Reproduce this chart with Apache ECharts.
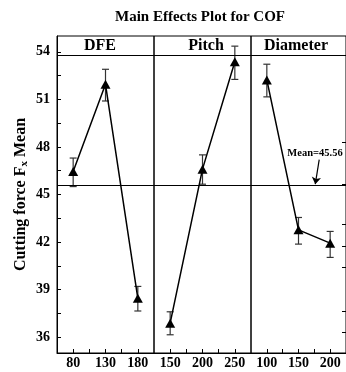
<!DOCTYPE html>
<html><head><meta charset="utf-8">
<script src="https://cdn.jsdelivr.net/npm/echarts@6/dist/echarts.min.js"></script>
<style>html,body{margin:0;padding:0;background:#fff}#c{width:346px;height:372px}</style>
</head><body><div id="c"></div>
<script>
var panelNames = ['DFE', 'Pitch', 'Diameter'];
var dfeLevels = [80, 130, 180];
var dfeMeans = [46.45, 51.95, 38.45];
var dfeLow = [45.5, 50.9, 37.65];
var dfeHigh = [47.3, 52.9, 39.2];
var pitchLevels = [150, 200, 250];
var pitchMeans = [36.88, 46.6, 53.37];
var pitchLow = [36.15, 45.65, 52.26];
var pitchHigh = [37.6, 47.5, 54.36];
var diamLevels = [100, 150, 200];
var diamMeans = [52.23, 42.77, 41.93];
var diamLow = [51.16, 41.87, 41.03];
var diamHigh = [53.22, 43.55, 42.67];
var xRanges = [[55, 205], [125, 275], [75, 225]];
var xLabelVals = [[80, 130, 180], [150, 200, 250], [100, 150, 200]];
var xTickVals = [[80, 105, 130, 155, 180], [150, 175, 200, 225, 250], [100, 125, 150, 175, 200]];
var yLabelVals = [36, 39, 42, 45, 48, 51, 54];
var yTickVals = [36, 37.5, 39, 40.5, 42, 43.5, 45, 46.5, 48, 49.5, 51, 52.5, 54];
var rightTickVals = [53.8, 48.3, 45.65, 43.1, 41.75, 40.4, 37.65, 36.3];
var grandMean = 45.56;
var headerLine = 53.8;
var meanArrow = [[182.7, 47.2], [176.5, 45.65]];

var font = '"Liberation Serif", "Times New Roman", serif';
var levels = [dfeLevels, pitchLevels, diamLevels];
var means = [dfeMeans, pitchMeans, diamMeans];
var lows = [dfeLow, pitchLow, diamLow];
var highs = [dfeHigh, pitchHigh, diamHigh];

var gridLefts = [57, 154, 251];
var grids = [], xAxes = [], yAxes = [], series = [];
for (var i = 0; i < 3; i++) {
  grids.push({left: gridLefts[i], top: 36, width: 97, height: 317, show: true,
    borderColor: '#000', borderWidth: 1, backgroundColor: 'transparent'});
  xAxes.push({type: 'value', gridIndex: i, min: xRanges[i][0], max: xRanges[i][1],
    splitLine: {show: false},
    axisLine: {show: true, onZero: false, lineStyle: {color: '#000', width: 1}},
    axisTick: {show: true, inside: true, length: 4, customValues: xTickVals[i], lineStyle: {color: '#000'}},
    axisLabel: {show: true, customValues: xLabelVals[i], margin: 3, color: '#000',
      fontFamily: font, fontWeight: 'bold', fontSize: 14}});
  yAxes.push({type: 'value', gridIndex: i, min: 35, max: 55,
    splitLine: {show: false},
    axisLine: {show: i === 0, lineStyle: {color: '#000', width: 1}},
    axisTick: {show: i === 0, inside: true, length: 4, customValues: yTickVals, lineStyle: {color: '#000'}},
    axisLabel: {show: i === 0, customValues: yLabelVals, margin: 7, color: '#000',
      fontFamily: font, fontWeight: 'bold', fontSize: 14},
    name: i === 0 ? '{a|Cutting force F}{s|x}{a| Mean}' : '',
    nameLocation: 'middle', nameRotate: 90, nameGap: 27,
    nameTextStyle: {rich: {
      a: {fontFamily: font, fontWeight: 'bold', fontSize: 16, color: '#000'},
      s: {fontFamily: font, fontWeight: 'bold', fontSize: 11, color: '#000', verticalAlign: 'bottom', padding: [8, 0, 0, 0]}
    }}});
  var pts = [], eb = [];
  for (var j = 0; j < levels[i].length; j++) {
    pts.push([levels[i][j], means[i][j]]);
    eb.push([levels[i][j], lows[i][j], highs[i][j]]);
  }
  var ml = [
    {yAxis: grandMean},
    {yAxis: headerLine}
  ];
  series.push({type: 'line', xAxisIndex: i, yAxisIndex: i, data: pts,
    symbol: 'triangle', symbolSize: [10, 9], z: 5,
    itemStyle: {color: '#000'}, lineStyle: {color: '#000', width: 1.5},
    markLine: {silent: true, symbol: 'none', label: {show: false},
      lineStyle: {color: '#000', width: 1, type: 'solid'}, data: ml}});
  series.push({type: 'custom', xAxisIndex: i, yAxisIndex: i, data: eb, z: 4,
    renderItem: function (params, api) {
      var x = api.value(0);
      var lo = api.coord([x, api.value(1)]);
      var hi = api.coord([x, api.value(2)]);
      var w = 3.5;
      var st = {stroke: '#333', lineWidth: 1.2};
      return {type: 'group', children: [
        {type: 'line', shape: {x1: lo[0], y1: lo[1], x2: hi[0], y2: hi[1]}, style: st},
        {type: 'line', shape: {x1: lo[0] - w, y1: lo[1], x2: lo[0] + w, y2: lo[1]}, style: st},
        {type: 'line', shape: {x1: hi[0] - w, y1: hi[1], x2: hi[0] + w, y2: hi[1]}, style: st}
      ]};
    }});
}
// right-side tick axis on last panel
yAxes.push({type: 'value', gridIndex: 2, position: 'right', min: 35, max: 55,
  splitLine: {show: false}, axisLine: {show: false},
  axisTick: {show: true, inside: true, length: 4, customValues: rightTickVals, lineStyle: {color: '#000'}},
  axisLabel: {show: false}});
// mean annotation arrow
series.push({type: 'line', xAxisIndex: 2, yAxisIndex: 2, data: [], silent: true,
  markLine: {silent: true, symbol: ['none', 'arrow'], symbolSize: 7,
    lineStyle: {color: '#000', width: 1.2, type: 'solid'},
    label: {show: false},
    data: [[{coord: meanArrow[0]}, {coord: meanArrow[1]}]]}});

var headerTexts = [];
var headerX = [100, 206, 296];
for (var k = 0; k < 3; k++) {
  headerTexts.push({type: 'text', x: headerX[k], y: 46, style: {text: panelNames[k],
    fontFamily: font, fontWeight: 'bold', fontSize: 16, fill: '#000',
    textAlign: 'center', textVerticalAlign: 'middle'}});
}
headerTexts.push({type: 'text', x: 315, y: 153, style: {text: 'Mean=45.56',
  fontFamily: font, fontWeight: 'bold', fontSize: 10.5, fill: '#000',
  textAlign: 'center', textVerticalAlign: 'middle'}});

var chart = echarts.init(document.getElementById('c'));
chart.setOption({
  animation: false,
  title: {text: 'Main Effects Plot for COF', left: 195, top: 5, textAlign: 'center',
    textStyle: {fontFamily: font, fontWeight: 'bold', fontSize: 15, color: '#000'}},
  grid: grids, xAxis: xAxes, yAxis: yAxes, series: series,
  graphic: headerTexts
});
</script></body></html>
